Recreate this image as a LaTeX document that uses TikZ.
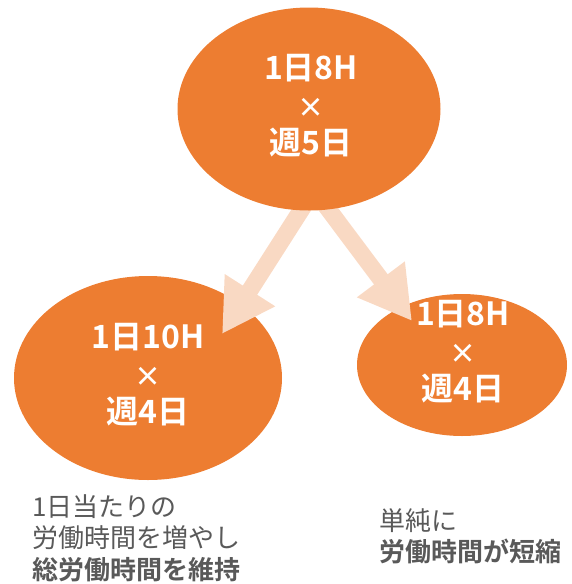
\documentclass[tikz,border=0pt]{standalone}
\usepackage{fontspec}
\setmainfont{Noto Sans CJK JP}[BoldFont={Noto Sans CJK JP Bold}]
\usetikzlibrary{shapes.geometric,arrows.meta}
\definecolor{orng}{HTML}{ED7D31}
\definecolor{peach}{HTML}{F9D9C3}
\definecolor{txtgray}{HTML}{595959}
\tikzset{
  oval/.style={ellipse, fill=orng, inner sep=0pt},
  ovaltext/.style={text=white, font=\fontsize{32}{37.5}\selectfont\bfseries, align=center, inner sep=0pt},
  note/.style={text=txtgray, font=\fontsize{26}{31.5}\selectfont, align=left, inner sep=0pt, anchor=north west},
  bigarrow/.style={draw=peach, line width=17pt, -{Triangle[width=56pt,length=52pt]}}
}
\newcommand{\tms}{{\fontsize{27}{37.5}\selectfont ×}}
\begin{document}
\begin{tikzpicture}[x=1pt,y=-1pt]
\useasboundingbox (0,0) rectangle (572,584);
% lower ellipses
\node[oval, minimum width=268pt, minimum height=204pt] (left) at (148,378) {};
\node[oval, minimum width=210pt, minimum height=142pt] (right) at (462,365) {};
% arrows
\coordinate (src) at (314,190);
\coordinate (ltip) at (222,334);
\coordinate (rtip) at (412,321);
\draw[bigarrow] (src) -- (ltip);
\draw[bigarrow] (src) -- (rtip);
% top ellipse
\node[oval, minimum width=263pt, minimum height=203pt] (top) at (309,109) {};
% texts
\node[ovaltext] (toptext) at (311,106) {1日8H\\\tms\\週5日};
\node[ovaltext] (lefttext) at (148,375) {1日10H\\\tms\\週4日};
\node[ovaltext] (righttext) at (463,352) {1日8H\\\tms\\週4日};
\node[note] (lnote) at (32,494) {1日当たりの\\労働時間を増やし\\\textbf{総労働時間を維持}};
\node[note] (rnote) at (379,508) {単純に\\\textbf{労働時間が短縮}};
\end{tikzpicture}
\end{document}
